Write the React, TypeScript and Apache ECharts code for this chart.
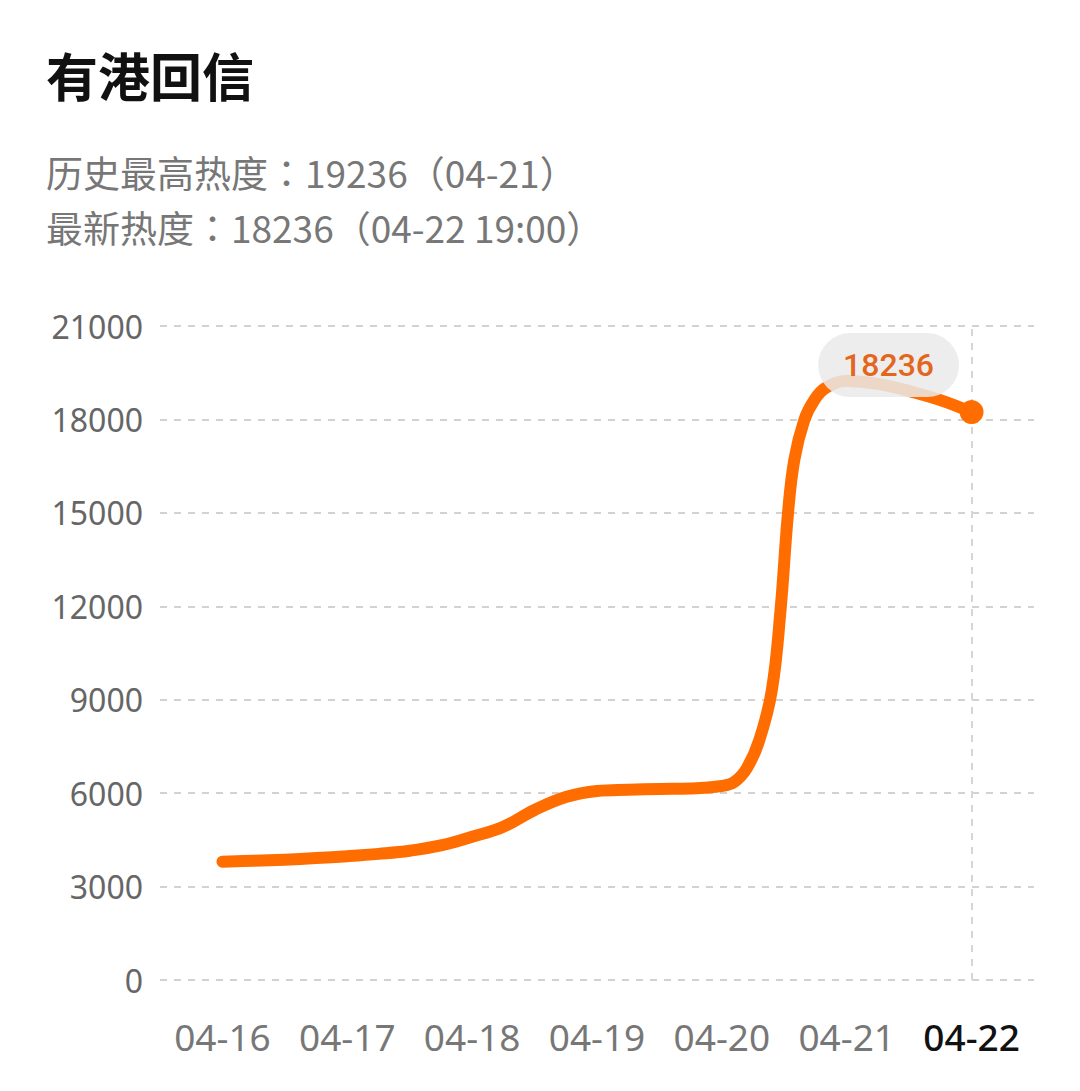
import * as echarts from "echarts";
import { useEffect, useRef } from "react";

// 标题文字
const chartTitle = "有港回信";
const peakLine = "历史最高热度：19236（04-21）";
const latestLine = "最新热度：18236（04-22 19:00）";

// x 轴日期
const dayLabels = ["04-16", "04-17", "04-18", "04-19", "04-20", "04-21", "04-22"];

// 采样点：距 04-16 的天数 与 对应热度
const dayOffsets = [
  0, 0.25, 0.5, 0.75, 1, 1.25, 1.5, 1.75, 2, 2.25, 2.5, 2.75, 3, 3.25, 3.5, 3.75, 4,
  4.1, 4.2, 4.3, 4.4, 4.47, 4.53, 4.58, 4.66, 4.74, 4.83, 5, 5.25, 5.5, 5.75, 6,
];
const heatValues = [
  3800, 3830, 3865, 3915, 3975, 4050, 4150, 4320, 4600, 4920, 5460, 5876, 6070, 6110, 6135,
  6150, 6230, 6360, 6800, 7700, 9300, 11880, 15000, 16700, 17980, 18620, 19010, 19236,
  19140, 18910, 18620, 18236,
];

// y 轴刻度
const yMin = 0;
const yMax = 21000;
const yStep = 3000;

const ORANGE = "#FF6D00";
const DATE_FONT = "Noto Sans, Roboto, sans-serif";

const App = () => {
  const chartRef = useRef<HTMLDivElement | null>(null);

  useEffect(() => {
    document.body.style.margin = "0";
    const chart = echarts.init(chartRef.current!, null, { renderer: "svg" });

    const lastIdx = heatValues.length - 1;
    const linePoints = dayOffsets.map((d, i) => [d, heatValues[i]]);

    const option = {
      animation: false,
      backgroundColor: "#fff",
      graphic: [
        {
          type: "text",
          left: 46,
          top: 48,
          style: {
            text: chartTitle,
            fontSize: 52,
            fontWeight: "bold",
            fill: "#111",
            fontFamily: "Noto Sans CJK SC",
          },
        },
        {
          type: "text",
          left: 46,
          top: 144,
          style: {
            text: peakLine + "\n" + latestLine,
            fontSize: 37,
            lineHeight: 55,
            fill: "#777",
            fontFamily: "Noto Sans CJK TC",
          },
        },
      ],
      grid: { left: 160, right: 46, top: 326, bottom: 111 },
      xAxis: [
        {
          type: "category",
          data: dayLabels,
          boundaryGap: true,
          axisLine: { show: false },
          axisTick: { show: false },
          splitLine: { show: false },
          axisLabel: {
            interval: 0,
            margin: 38,
            fontSize: 37,
            color: "#777",
            fontFamily: DATE_FONT,
            formatter: (v: string, i: number) =>
              i === dayLabels.length - 1 ? `{last|${v}}` : v,
            rich: {
              last: {
                fontSize: 37,
                color: "#111",
                fontWeight: 500,
                fontFamily: DATE_FONT,
              },
            },
          },
        },
        {
          type: "value",
          min: -0.5,
          max: 6.5,
          show: false,
        },
      ],
      yAxis: {
        type: "value",
        min: yMin,
        max: yMax,
        interval: yStep,
        axisLine: { show: false },
        axisTick: { show: false },
        axisLabel: {
          margin: 17,
          fontSize: 32,
          color: "#666",
          fontFamily: "Noto Sans, Roboto, sans-serif",
          formatter: (v: number) => String(v),
        },
        splitLine: {
          lineStyle: { color: "#d2d2d2", width: 2, type: [7, 7] },
        },
      },
      series: [
        {
          type: "line",
          xAxisIndex: 1,
          data: linePoints,
          smooth: 0.4,
          symbol: "none",
          lineStyle: { color: ORANGE, width: 12, cap: "round", join: "round" },
          markLine: {
            silent: true,
            symbol: "none",
            label: { show: false },
            lineStyle: { color: "#d6d6d6", width: 2, type: [7, 7] },
            data: [{ xAxis: dayOffsets[lastIdx] }],
          },
        },
        {
          type: "scatter",
          xAxisIndex: 1,
          data: [[dayOffsets[lastIdx], heatValues[lastIdx]]],
          symbol: "circle",
          symbolSize: 24,
          itemStyle: { color: ORANGE, opacity: 1 },
          z: 5,
          label: {
            show: true,
            position: "inside",
            offset: [-83, -47],
            formatter: (p: any) => String(p.value[1]),
            fontSize: 32,
            lineHeight: 38,
            fontWeight: 500,
            color: "#E4651C",
            opacity: 1,
            fontFamily: "Roboto, sans-serif",
            backgroundColor: "rgba(234,234,234,0.85)",
            borderRadius: 32,
            padding: [13, 25],
          },
        },
      ],
    };

    chart.setOption(option);
    return () => {
      chart.dispose();
    };
  }, []);

  return <div ref={chartRef} style={{ width: "1080px", height: "1091px" }} />;
};

export default App;
